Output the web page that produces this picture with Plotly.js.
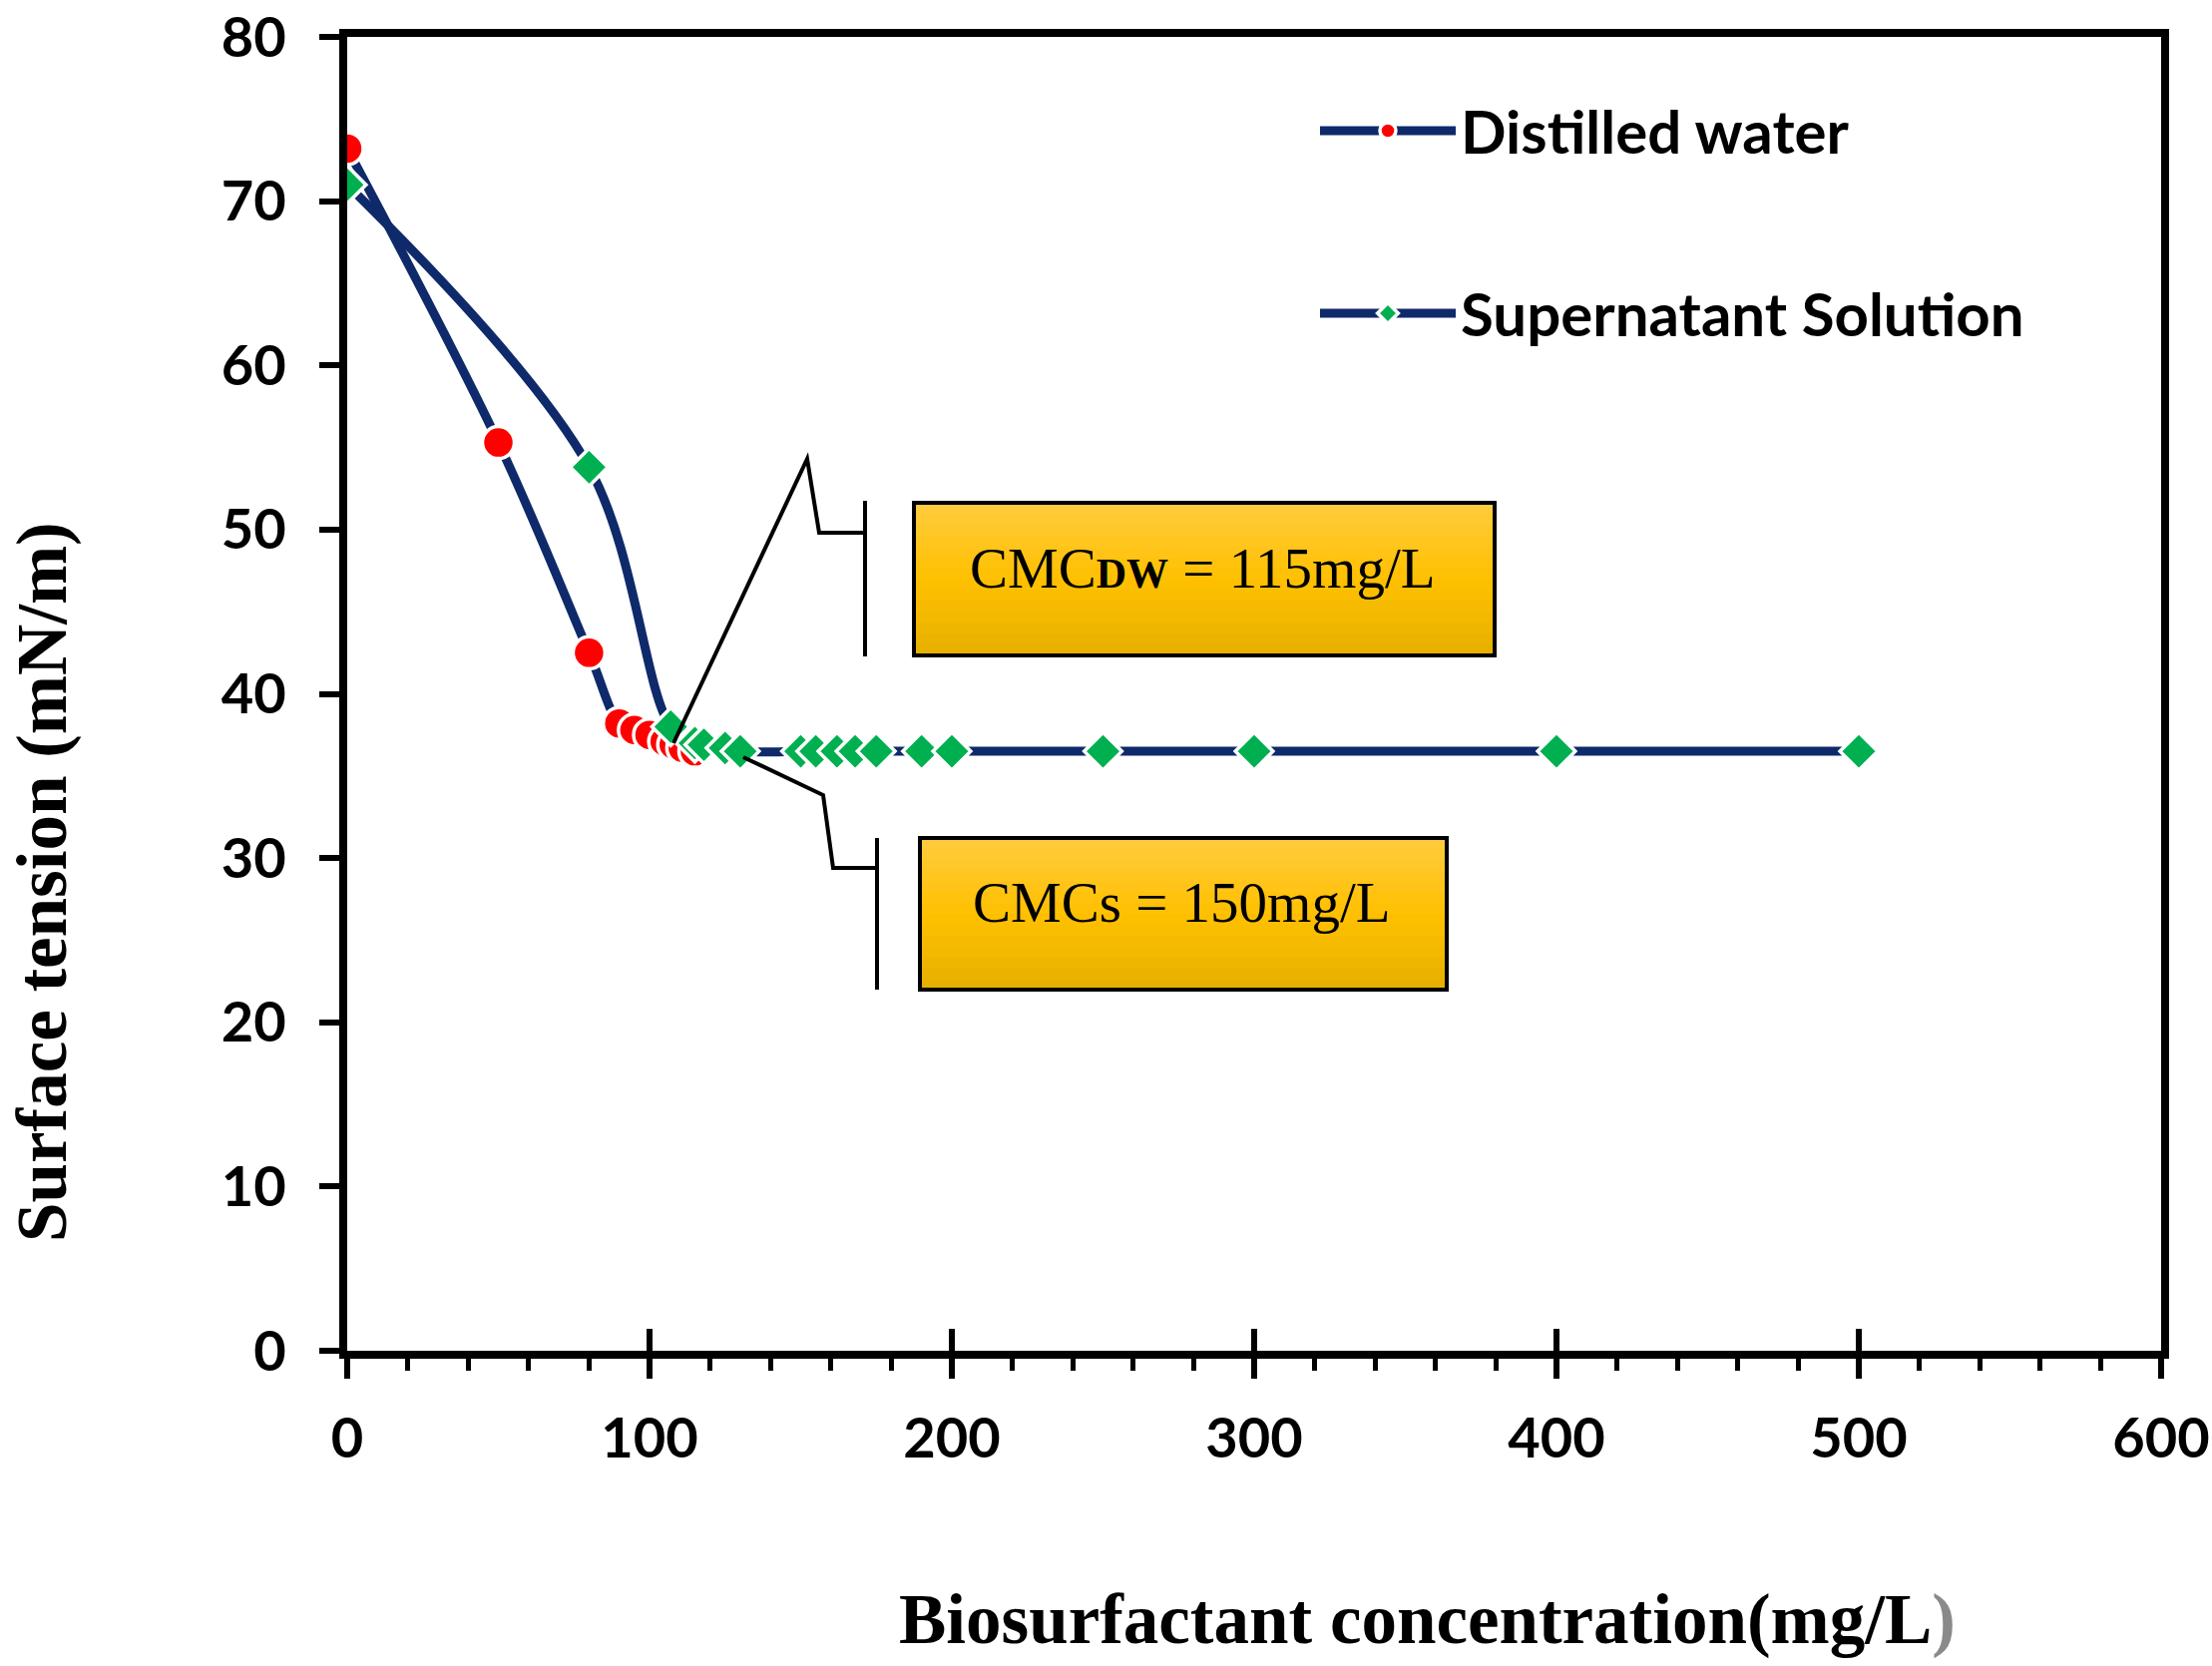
<!DOCTYPE html>
<html>
<head>
<meta charset="utf-8">
<script src="https://cdn.plot.ly/plotly-3.0.1.min.js"></script>
<style>
  html, body { margin: 0; padding: 0; background: #fff; }
  #chart { width: 2217px; height: 1670px; }
</style>
</head>
<body>
<div id="chart"></div>
<script>
// ---------------- data ----------------
const dwName = "Distilled water";
const dwX = [0, 50, 80, 90, 95, 100, 105, 108, 111, 115];
const dwY = [73.2, 55.3, 42.5, 38.2, 37.8, 37.5, 37.1, 36.9, 36.7, 36.5];

const ssName = "Supernatant Solution";
const ssX = [0, 80, 107, 115, 118, 125, 130, 150, 155, 162, 168, 175, 190, 200, 250, 300, 400, 500];
const ssY = [71.0, 53.8, 38.0, 37.0, 36.9, 36.7, 36.5, 36.5, 36.5, 36.5, 36.5, 36.5, 36.5, 36.5, 36.5, 36.5, 36.5, 36.5];

const xTitle = "Biosurfactant concentration(mg/L<span style='color:#8a8a8a'>)</span>";
const yTitle = "Surface tension (mN/m)";
const cmcDW = "CMC<b><span style='font-size:42px'>DW</span></b> = 115mg/L";
const cmcS = "CMCs = 150mg/L";

// ---------------- geometry helpers (layout only) ----------------
const W = 2217, H = 1670;
const ML = 348, MR = 51, MT = 37, MB = 316;
const PW = W - ML - MR, PH = H - MT - MB;
const PX = x => (x - ML) / PW;
const PY = y => (H - MB - y) / PH;

const navy = "#0f2a6b";
const tickFont = { family: "Lato, 'Open Sans', sans-serif", size: 56, color: "#000", weight: "bold" };
const serif = "'Liberation Serif', 'Times New Roman', serif";

const traces = [
  {
    x: dwX, y: dwY, name: dwName, type: "scatter", mode: "lines+markers",
    line: { color: navy, width: 9, shape: "spline", smoothing: 1 },
    marker: { symbol: "circle", size: 32, color: "#ff0000", line: { color: "#ffffff", width: 3.5 } },
    legend: "legend"
  },
  {
    x: ssX, y: ssY, name: ssName, type: "scatter", mode: "lines+markers", xaxis: "x2", yaxis: "y",
    line: { color: navy, width: 9, shape: "spline", smoothing: 1 },
    marker: { symbol: "diamond", size: 29, color: "#00b050", line: { color: "#ffffff", width: 3.5 } },
    legend: "legend2"
  }
];

// callout boxes with vertical gradient bands
const shapes = [];
function gradBox(x0, y0, x1, y1) {
  const n = 14;
  const top = [255, 204, 64], mid = [255, 192, 0], bot = [230, 176, 0];
  for (let i = 0; i < n; i++) {
    const t = (i + 0.5) / n;
    let c;
    if (t < 0.5) { const u = t / 0.5; c = top.map((v, k) => Math.round(v + (mid[k] - v) * u)); }
    else { const u = (t - 0.5) / 0.5; c = mid.map((v, k) => Math.round(v + (bot[k] - v) * u)); }
    const ya = y0 + (y1 - y0) * i / n, yb = y0 + (y1 - y0) * (i + 1) / n + 1;
    shapes.push({ type: "rect", xref: "paper", yref: "paper", x0: PX(x0), x1: PX(x1), y0: PY(ya), y1: PY(Math.min(yb, y1)),
      fillcolor: `rgb(${c[0]},${c[1]},${c[2]})`, line: { width: 0 }, layer: "above" });
  }
  shapes.push({ type: "rect", xref: "paper", yref: "paper", x0: PX(x0), x1: PX(x1), y0: PY(y0), y1: PY(y1),
    fillcolor: "rgba(0,0,0,0)", line: { color: "#000", width: 4 }, layer: "above" });
}
function polyline(pts) {
  let d = "";
  pts.forEach((p, i) => { d += (i ? " L" : "M") + PX(p[0]).toFixed(5) + "," + PY(p[1]).toFixed(5); });
  shapes.push({ type: "path", xref: "paper", yref: "paper", path: d, line: { color: "#000", width: 4 }, layer: "above" });
}
gradBox(916, 504, 1498, 657);
gradBox(922, 840, 1450, 992);
polyline([[675, 745], [809, 460], [821, 534], [867, 534]]);
polyline([[867, 502], [867, 658]]);
polyline([[745, 759], [825, 797], [835, 870], [879, 870]]);
polyline([[879, 840], [879, 992]]);

const annotations = [
  { xref: "paper", yref: "paper", x: PX(1205), y: PY(569), text: cmcDW, showarrow: false,
    font: { family: serif, size: 57, color: "#000" }, xanchor: "center", yanchor: "middle" },
  { xref: "paper", yref: "paper", x: PX(1184), y: PY(904), text: cmcS, showarrow: false,
    font: { family: serif, size: 57, color: "#000" }, xanchor: "center", yanchor: "middle" },
  { xref: "paper", yref: "paper", x: PX(1430), y: PY(1623), text: xTitle, showarrow: false,
    font: { family: serif, size: 71, color: "#000", weight: "bold" }, xanchor: "center", yanchor: "middle" },
  { xref: "paper", yref: "paper", x: PX(42), y: PY(884), text: yTitle, showarrow: false, textangle: -90,
    font: { family: serif, size: 71, color: "#000", weight: "bold" }, xanchor: "center", yanchor: "middle" }
];

const legendFont = { family: "Lato, 'Open Sans', sans-serif", size: 60, color: "#000", weight: "bold" };

const layout = {
  width: W, height: H,
  margin: { l: ML, r: MR, t: MT, b: MB, pad: 0 },
  paper_bgcolor: "#fff", plot_bgcolor: "#fff",
  showlegend: true,
  xaxis: {
    range: [0, 600], tick0: 0, dtick: 100, ticks: "outside", ticklen: 20, tickwidth: 6, tickcolor: "#000",
    showline: true, linewidth: 8, linecolor: "#000", mirror: true, showgrid: false, zeroline: false,
    tickfont: tickFont, ticklabelstandoff: 12, ticklabeloverflow: "allow",
    minor: { dtick: 20, ticks: "outside", ticklen: 12, tickwidth: 5, tickcolor: "#000", showgrid: false }
  },
  xaxis2: {
    overlaying: "x", anchor: "y", side: "bottom", range: [0, 600], tick0: 0, dtick: 100,
    ticks: "inside", ticklen: 22, tickwidth: 6, tickcolor: "#000", showticklabels: false,
    showline: false, showgrid: false, zeroline: false
  },
  yaxis: {
    range: [0, 80], tick0: 0, dtick: 10, ticks: "outside", ticklen: 20, tickwidth: 6, tickcolor: "#000",
    showline: true, linewidth: 8, linecolor: "#000", mirror: true, showgrid: false, zeroline: false,
    tickfont: tickFont, ticklabelstandoff: 22, ticklabeloverflow: "allow"
  },
  legend: {
    x: PX(1318), y: PY(131), xanchor: "left", yanchor: "middle", bgcolor: "rgba(0,0,0,0)",
    borderwidth: 0, font: legendFont, itemwidth: 136
  },
  legend2: {
    x: PX(1318), y: PY(314), xanchor: "left", yanchor: "middle", bgcolor: "rgba(0,0,0,0)",
    borderwidth: 0, font: legendFont, itemwidth: 136
  },
  shapes: shapes,
  annotations: annotations
};

Plotly.newPlot("chart", traces, layout, { displayModeBar: false, staticPlot: true });
</script>
</body>
</html>
